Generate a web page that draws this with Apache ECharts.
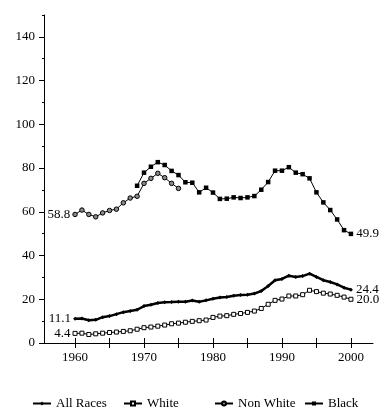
<!DOCTYPE html>
<html><head><meta charset="utf-8">
<script src="https://cdn.jsdelivr.net/npm/echarts@6/dist/echarts.min.js"></script>
<style>html,body{margin:0;padding:0;background:#fff}#c{width:390px;height:420px}</style>
</head><body><div id="c"></div>
<script>
const allYears = [1960,1961,1962,1963,1964,1965,1966,1967,1968,1969,1970,1971,1972,1973,1974,1975,1976,1977,1978,1979,1980,1981,1982,1983,1984,1985,1986,1987,1988,1989,1990,1991,1992,1993,1994,1995,1996,1997,1998,1999,2000];
const allRaces = [11.1,11.2,10.4,10.6,11.8,12.3,13.2,14.1,14.6,15.2,16.9,17.5,18.3,18.6,18.7,18.9,18.9,19.4,18.9,19.5,20.2,20.8,21.0,21.6,21.9,22.1,22.6,23.8,26.1,28.7,29.3,30.8,30.2,30.6,31.7,30.2,28.7,27.9,26.8,25.3,24.4];
const white = [4.4,4.5,3.9,4.2,4.5,4.8,5.0,5.3,5.6,6.3,7.0,7.3,7.7,8.2,8.8,9.1,9.5,9.9,10.2,10.5,11.7,12.3,12.5,13.1,13.5,14.0,14.6,15.8,17.7,19.5,20.1,21.5,21.5,22.1,24.1,23.5,22.8,22.4,21.8,21.0,20.0];
const nonWhiteYears = [1960,1961,1962,1963,1964,1965,1966,1967,1968,1969,1970,1971,1972,1973,1974,1975];
const nonWhite = [58.8,60.8,58.8,57.7,59.5,60.6,61.2,64.1,66.3,67.1,73.0,75.3,77.6,75.6,73.0,70.7];
const blackYears = [1969,1970,1971,1972,1973,1974,1975,1976,1977,1978,1979,1980,1981,1982,1983,1984,1985,1986,1987,1988,1989,1990,1991,1992,1993,1994,1995,1996,1997,1998,1999,2000];
const black = [71.9,77.9,80.6,82.7,81.4,78.7,76.8,73.5,73.3,68.9,71.0,68.8,65.9,66.0,66.6,66.3,66.6,67.2,70.1,73.6,78.8,78.8,80.4,77.9,77.2,75.3,68.9,64.3,60.8,56.5,51.6,49.9];
const yLabels = [0,20,40,60,80,100,120,140];
const yMinor = [10,30,50,70,90,110,130,150];
const xLabels = [1960,1970,1980,1990,2000];
const xTicks = [1960,1965,1970,1975,1980,1985,1990,1995,2000];

const FONT = 'Liberation Serif';
function pts(xs, ys, labelFirst, labelLast) {
  return xs.map((x, i) => {
    const d = { value: [x, ys[i]] };
    if (labelFirst && i === 0) d.label = { show: true, position: 'left', distance: 2, formatter: ys[i].toFixed(1) };
    if (labelLast && i === xs.length - 1) d.label = { show: true, position: 'right', distance: 3, formatter: ys[i].toFixed(1) };
    return d;
  });
}
const lbl = { color: '#000', fontFamily: FONT, fontSize: 13 };
const chart = echarts.init(document.getElementById('c'));
const legendBase = (left, name) => ({
  data: [name], left: left, top: 392, itemWidth: 18, itemHeight: 5, itemGap: 4,
  textStyle: { fontFamily: FONT, fontSize: 13, color: '#000' }
});
chart.setOption({
  animation: false,
  backgroundColor: '#fff',
  legend: [legendBase(27, 'All Races'), legendBase(118, 'White'), legendBase(209, 'Non White'), legendBase(299, 'Black')],
  grid: { left: 44, right: 17, top: 15, bottom: 77, containLabel: false },
  xAxis: [{
    type: 'value', min: 1955.5, max: 2003.2,
    axisLine: { show: true, lineStyle: { color: '#000', width: 1 } },
    axisTick: { show: true, customValues: xTicks, length: 5, lineStyle: { color: '#000' } },
    axisLabel: { customValues: xLabels, formatter: v => String(v), color: '#000', fontFamily: FONT, fontSize: 13, margin: 8 },
    splitLine: { show: false }
  }, {
    type: 'value', min: 1955.5, max: 2003.2, position: 'bottom', gridIndex: 0,
    axisLine: { show: false },
    axisTick: { show: true, inside: true, customValues: xTicks, length: 5, lineStyle: { color: '#000' } },
    axisLabel: { show: false }, splitLine: { show: false }
  }],
  yAxis: [{
    type: 'value', min: 0, max: 150,
    axisLine: { show: true, lineStyle: { color: '#000', width: 1 } },
    axisTick: { show: true, customValues: yLabels, length: 5, lineStyle: { color: '#000' } },
    axisLabel: { customValues: yLabels, color: '#000', fontFamily: FONT, fontSize: 13, margin: 9 },
    splitLine: { show: false }
  }, {
    type: 'value', min: 0, max: 150, position: 'left',
    axisLine: { show: false },
    axisTick: { show: true, customValues: yMinor, length: 2, lineStyle: { color: '#000' } },
    axisLabel: { show: false }, splitLine: { show: false }
  }],
  series: [{
    name: 'All Races', type: 'line', data: pts(allYears, allRaces, true, true),
    symbol: 'diamond', symbolSize: 4, showAllSymbol: true,
    lineStyle: { color: '#000', width: 2.5 }, itemStyle: { color: '#000' }, label: lbl
  }, {
    name: 'White', type: 'line', data: pts(allYears, white, true, true),
    symbol: 'rect', symbolSize: 4, showAllSymbol: true,
    lineStyle: { color: '#000', width: 1 }, itemStyle: { color: '#fff', borderColor: '#000', borderWidth: 1 }, label: lbl
  }, {
    name: 'Non White', type: 'line', data: pts(nonWhiteYears, nonWhite, true, false),
    symbol: 'circle', symbolSize: 4.5, showAllSymbol: true,
    lineStyle: { color: '#000', width: 1 }, itemStyle: { color: '#8a8a8a', borderColor: '#000', borderWidth: 1 }, label: lbl
  }, {
    name: 'Black', type: 'line', data: pts(blackYears, black, false, true),
    symbol: 'rect', symbolSize: 4.5, showAllSymbol: true,
    lineStyle: { color: '#000', width: 1 }, itemStyle: { color: '#000' }, label: lbl
  }]
});
</script></body></html>
